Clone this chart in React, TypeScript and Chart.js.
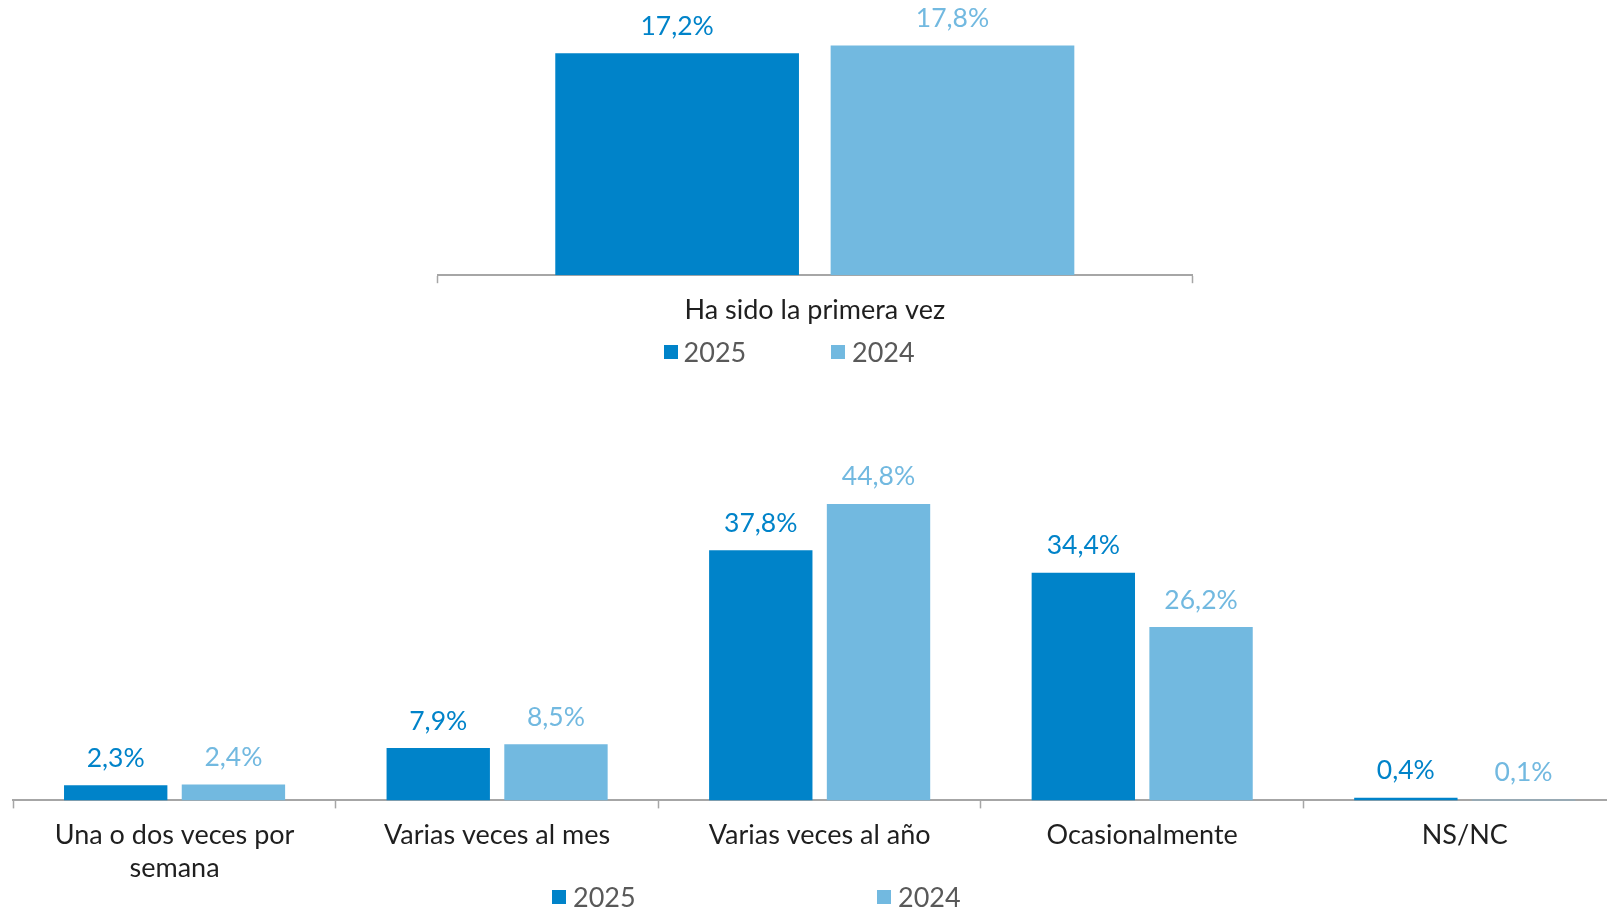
import React, { useEffect, useRef } from "react";
import { Chart, registerables } from "chart.js";

Chart.register(...registerables);

const seriesNames = ["2025", "2024"];
const seriesColors = ["#0083C9", "#72B9E0"];

const topCategories = ["Ha sido la primera vez"];
const top2025 = [17.2];
const top2024 = [17.8];

const bottomCategories: (string | string[])[] = [
  ["Una o dos veces por", "semana"],
  "Varias veces al mes",
  "Varias veces al año",
  "Ocasionalmente",
  "NS/NC",
];
const bottom2025 = [2.3, 7.9, 37.8, 34.4, 0.4];
const bottom2024 = [2.4, 8.5, 44.8, 26.2, 0.1];

const topYMax = 20;
const bottomYMax = 50;

const FONT = "Lato, 'Noto Sans', sans-serif";

const valueLabels = {
  id: "valueLabels",
  afterDatasetsDraw(chart: any) {
    const ctx = chart.ctx;
    ctx.save();
    ctx.font = `26.5px ${FONT}`;
    ctx.textAlign = "center";
    ctx.textBaseline = "middle";
    chart.data.datasets.forEach((ds: any, i: number) => {
      const meta = chart.getDatasetMeta(i);
      ctx.fillStyle = seriesColors[i];
      meta.data.forEach((bar: any, j: number) => {
        const v = ds.data[j] as number;
        ctx.fillText(v.toFixed(1).replace(".", ",") + "%", bar.x, bar.y - 27);
      });
    });
    ctx.restore();
  },
};

function makeConfig(
  labels: any[],
  d25: number[],
  d24: number[],
  yMax: number,
  padding: { left: number; right: number; top: number; bottom: number },
  barPct: number
): any {
  return {
    type: "bar",
    data: {
      labels,
      datasets: [
        {
          label: seriesNames[0],
          data: d25,
          backgroundColor: seriesColors[0],
          categoryPercentage: 0.73,
          barPercentage: barPct,
        },
        {
          label: seriesNames[1],
          data: d24,
          backgroundColor: seriesColors[1],
          categoryPercentage: 0.73,
          barPercentage: barPct,
        },
      ],
    },
    options: {
      responsive: false,
      maintainAspectRatio: false,
      animation: false,
      layout: { padding },
      plugins: {
        legend: { display: false },
        tooltip: { enabled: false },
      },
      scales: {
        x: {
          offset: true,
          grid: {
            display: true,
            offset: true,
            drawOnChartArea: false,
            drawTicks: true,
            tickLength: 8,
            tickColor: "#a6a6a6",
            tickWidth: 1.5,
          },
          border: { display: true, color: "#a6a6a6", width: 2 },
          ticks: {
            font: { family: FONT, size: 27, lineHeight: 1.215 },
            color: "#1f1f1f",
            padding: 11,
            maxRotation: 0,
            minRotation: 0,
            autoSkip: false,
          },
        },
        y: { display: false, min: 0, max: yMax },
      },
    },
    plugins: [valueLabels],
  };
}

function ChartCanvas(props: {
  config: () => any;
  left: number;
  top: number;
  width: number;
  height: number;
}) {
  const ref = useRef<HTMLCanvasElement | null>(null);
  useEffect(() => {
    if (!ref.current) return;
    const chart = new Chart(ref.current, props.config());
    return () => chart.destroy();
  }, []);
  return (
    <canvas
      ref={ref}
      width={props.width}
      height={props.height}
      style={{
        position: "absolute",
        left: props.left,
        top: props.top,
        width: props.width,
        height: props.height,
      }}
    />
  );
}

function Legend(props: { items: { box: number; text: number }[]; cy: number }) {
  return (
    <>
      {props.items.map((it, i) => (
        <React.Fragment key={i}>
          <div
            style={{
              position: "absolute",
              left: it.box,
              top: props.cy - 7,
              width: 14,
              height: 14,
              background: seriesColors[i],
            }}
          />
          <div
            style={{
              position: "absolute",
              left: it.text,
              top: props.cy - 16,
              height: 32,
              lineHeight: "32px",
              fontFamily: FONT,
              fontSize: 27,
              color: "#595959",
              whiteSpace: "nowrap",
            }}
          >
            {seriesNames[i]}
          </div>
        </React.Fragment>
      ))}
    </>
  );
}

export default function App() {
  return (
    <div
      style={{
        position: "fixed",
        left: 0,
        top: 0,
        width: 1607,
        height: 911,
        overflow: "hidden",
        background: "#ffffff",
      }}
    >
      <ChartCanvas
        left={0}
        top={0}
        width={1607}
        height={338}
        config={() =>
          makeConfig(topCategories, top2025, top2024, topYMax, { left: 437.6, right: 415, top: 17, bottom: 0 }, 0.885)
        }
      />
      <Legend
        cy={351.5}
        items={[
          { box: 664, text: 683.6 },
          { box: 831, text: 852 },
        ]}
      />
      <ChartCanvas
        left={0}
        top={379}
        width={1640}
        height={517}
        config={() =>
          makeConfig(bottomCategories, bottom2025, bottom2024, bottomYMax, { left: 13.3, right: 14, top: 90.5, bottom: 0 }, 0.878)
        }
      />
      <Legend
        cy={897}
        items={[
          { box: 552, text: 573 },
          { box: 877, text: 898 },
        ]}
      />
    </div>
  );
}
